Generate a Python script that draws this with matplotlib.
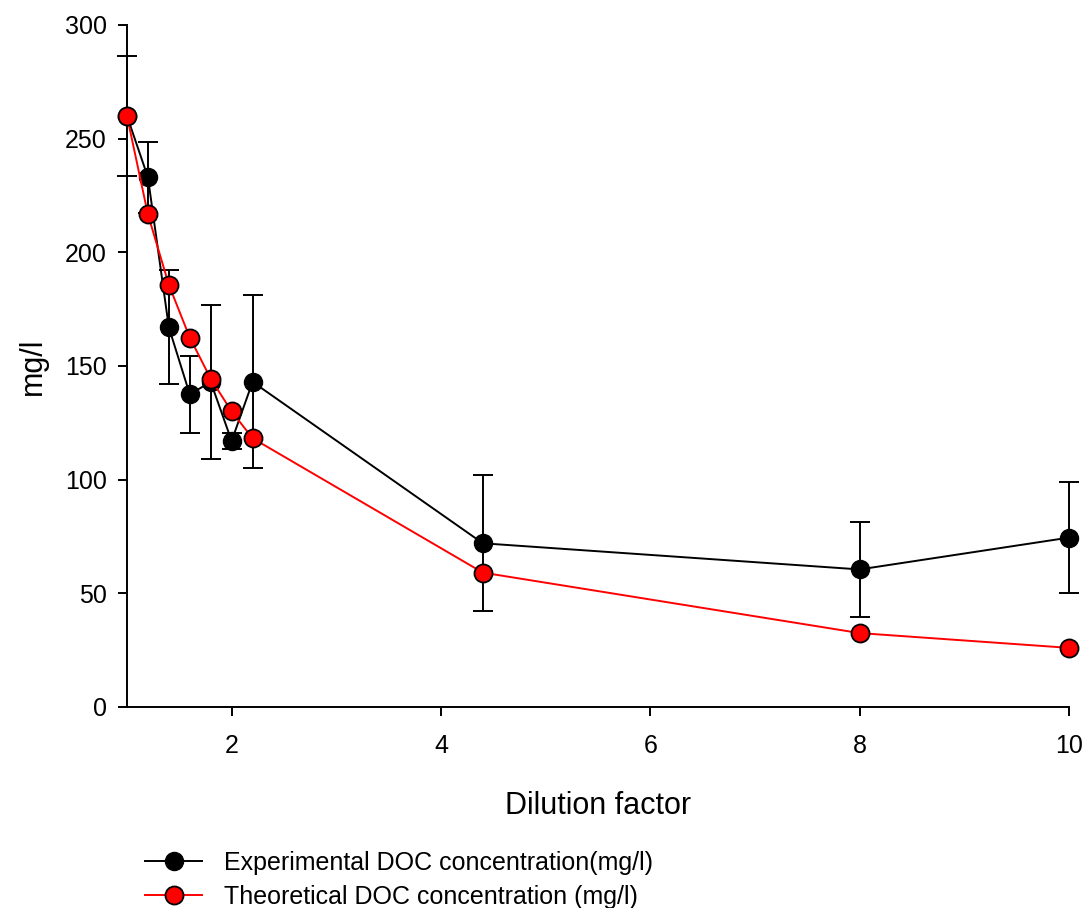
import matplotlib
matplotlib.use("Agg")
import matplotlib.pyplot as plt
from matplotlib.lines import Line2D

plt.rcParams['font.family'] = ['Liberation Sans', 'DejaVu Sans']

# dilution factor
dilution = [1.0, 1.2, 1.4, 1.6, 1.8, 2.0, 2.2, 4.4, 8.0, 10.0]
# experimental DOC (mg/l) and its error
exp_doc = [260, 233, 167, 137.5, 143, 117, 143, 72, 60.5, 74.5]
exp_err = [26.5, 15.5, 25, 17, 34, 3.5, 38, 30, 21, 24.5]
# theoretical DOC (mg/l)
theo_doc = [260, 216.7, 185.7, 162.5, 144.4, 130, 118.2, 59.1, 32.5, 26]

fig = plt.figure(figsize=(10.89, 9.08), dpi=100)
ax = fig.add_axes([0.1166, 0.2214, 0.865, 0.7511])

ax.errorbar(dilution, exp_doc, yerr=exp_err, color='black', lw=1.4,
            elinewidth=1.4, capsize=7, capthick=1.4, marker='o', ms=13,
            mfc='black', mec='black', clip_on=False, zorder=3)
ax.plot(dilution, theo_doc, color='red', lw=1.4, marker='o', ms=13,
        mfc='red', mec='black', mew=1.3, clip_on=False, zorder=4)

ax.set_xlim(1, 10)
ax.set_ylim(0, 300)
ax.set_xticks([2, 4, 6, 8, 10])
ax.set_yticks([0, 50, 100, 150, 200, 250, 300])
for s in ['top', 'right']:
    ax.spines[s].set_visible(False)
for s in ['left', 'bottom']:
    ax.spines[s].set_linewidth(1.4)
ax.tick_params(direction='out', length=6.5, width=1.4, labelsize=18)
ax.tick_params(axis='x', pad=13)
ax.tick_params(axis='y', pad=8)

ax.set_xlabel('Dilution factor', fontsize=22, labelpad=24)
ax.set_ylabel('mg/l', fontsize=22, labelpad=12)

handles = [
    Line2D([], [], color='black', lw=1.4, marker='o', ms=13, mfc='black', mec='black'),
    Line2D([], [], color='red', lw=1.4, marker='o', ms=13, mfc='red', mec='black', mew=1.3),
]
labels = ['Experimental DOC concentration(mg/l)', 'Theoretical DOC concentration (mg/l)']
fig.legend(handles, labels, loc='upper left', bbox_to_anchor=(0.133, 0.063),
           frameon=False, fontsize=18, handlelength=2.3, handletextpad=0.85,
           labelspacing=0.4, borderaxespad=0, borderpad=0)

fig.savefig('out.png', dpi=100)
